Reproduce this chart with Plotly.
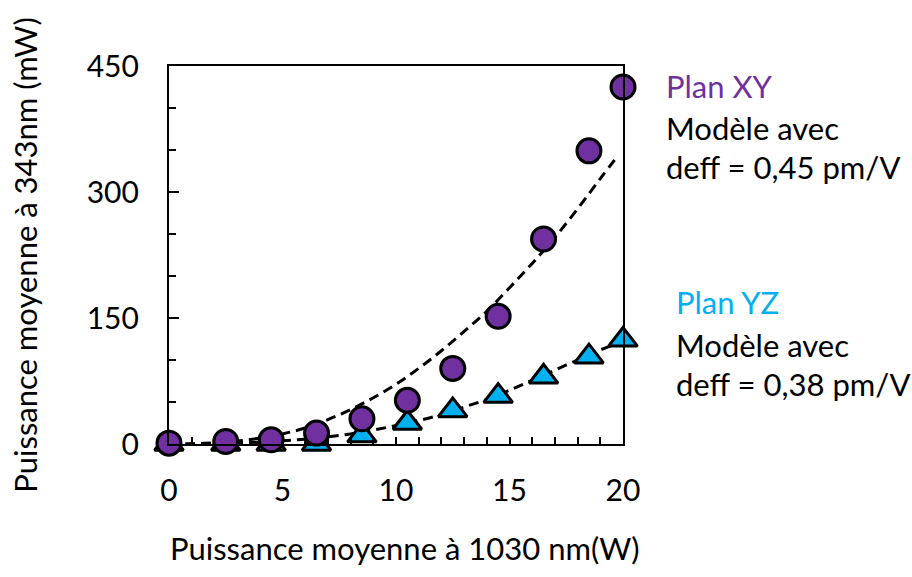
import plotly.graph_objects as go

# Measured points: fundamental power (W) vs. 343 nm harmonic power (mW)
p_fund = [0, 2.5, 4.5, 6.5, 8.5, 10.5, 12.5, 14.5, 16.5, 18.5, 20]
p_xy = [1, 3, 5, 13, 30, 52, 90, 152, 244, 349, 425]
p_yz = [0, 0, 0, 0, 10, 25, 40, 57, 80, 104, 124]

# Model curves (deff = 0.45 pm/V for XY, 0.38 pm/V for YZ)
model_xy_x = [0, 1, 2, 3, 4, 5, 6, 7, 8, 9, 10, 11, 12, 13, 14, 15, 16, 17, 18, 19, 19.8]
model_xy_y = [0, 0.3, 1.5, 3.5, 7, 12, 19, 29, 41, 55, 71, 90, 111, 134, 158, 186, 215, 246, 280, 316, 344]
model_yz_x = [0, 1, 2, 3, 4, 5, 6, 7, 8, 9, 10, 11, 12, 13, 14, 15, 16, 17, 18, 19, 20]
model_yz_y = [0, 0.1, 0.5, 1.2, 2.2, 3.8, 5.8, 8.5, 12, 16.5, 22, 28, 35, 44, 53, 64, 76, 88, 100, 112, 122]

x_ticks = [0, 5, 10, 15, 20]
y_ticks = [0, 150, 300, 450]

PURPLE = "#7030A0"
BLUE = "#00B0F0"
FONT = "Lato"
TICK_SIZE = 30
TEXT_SIZE = 31

fig = go.Figure()

dash_line = dict(color="black", width=3, dash="10px,6px")
fig.add_trace(go.Scatter(x=model_xy_x, y=model_xy_y, mode="lines",
                         line=dict(shape="spline", **dash_line), hoverinfo="skip"))
fig.add_trace(go.Scatter(x=model_yz_x, y=model_yz_y, mode="lines",
                         line=dict(shape="spline", **dash_line), hoverinfo="skip"))
fig.add_trace(go.Scatter(x=p_fund, y=p_yz, mode="markers", cliponaxis=False,
                         marker=dict(symbol="triangle-up", size=25, color=BLUE,
                                     line=dict(color="black", width=3))))
fig.add_trace(go.Scatter(x=p_fund, y=p_xy, mode="markers", cliponaxis=False,
                         marker=dict(symbol="circle", size=24, color=PURPLE,
                                     line=dict(color="black", width=3))))

fig.update_xaxes(
    range=[0, 20], tickvals=x_ticks, ticks="inside", ticklen=7, tickwidth=2,
    tickcolor="black", minor=dict(dtick=1, ticks="inside", ticklen=7, tickwidth=2,
                                  tickcolor="black"),
    showline=True, linecolor="black", linewidth=2.2, mirror=True,
    showgrid=False, zeroline=False, ticklabelstandoff=19,
    tickfont=dict(family=FONT, size=TICK_SIZE, color="black"),
)
fig.update_yaxes(
    range=[0, 450], tickvals=y_ticks, ticks="inside", ticklen=10, tickwidth=2,
    tickcolor="black", minor=dict(dtick=50, ticks="inside", ticklen=7, tickwidth=2,
                                  tickcolor="black"),
    showline=True, linecolor="black", linewidth=2.2, mirror=True,
    showgrid=False, zeroline=False, ticklabelstandoff=22,
    tickfont=dict(family=FONT, size=TICK_SIZE, color="black"),
    title=dict(text="Puissance moyenne à 343nm (mW)", standoff=40,
               font=dict(family=FONT, size=TEXT_SIZE, color="black")),
)

W, H = 912, 577
L, R, T, B = 169, 623, 66, 444


def paper_xy(px, py):
    return (px - L) / (R - L), (B - py) / (B - T)


# x-axis title, placed slightly right of the plot centre
tx, ty = paper_xy(405, 548)
fig.add_annotation(text="Puissance moyenne à 1030 nm(W)", xref="paper", yref="paper",
                   x=tx, y=ty, xanchor="center", yanchor="middle", showarrow=False,
                   font=dict(family=FONT, size=TEXT_SIZE, color="black"))

labels = [
    ("Plan XY", PURPLE, 664, 86),
    ("Modèle avec", "black", 664, 128),
    ("deff = 0,45 pm/V", "black", 664, 167),
    ("Plan YZ", BLUE, 674, 302),
    ("Modèle avec", "black", 674, 345),
    ("deff = 0,38 pm/V", "black", 674, 384),
]
for text, color, px, py in labels:
    ax, ay = paper_xy(px, py)
    fig.add_annotation(text=text, xref="paper", yref="paper", x=ax, y=ay,
                       xanchor="left", yanchor="middle", showarrow=False,
                       font=dict(family=FONT, size=TEXT_SIZE, color=color))

fig.update_layout(
    width=W, height=H, showlegend=False,
    plot_bgcolor="white", paper_bgcolor="white",
    margin=dict(l=L, r=W - R, t=T, b=H - B),
)

fig.write_html("out.html")
